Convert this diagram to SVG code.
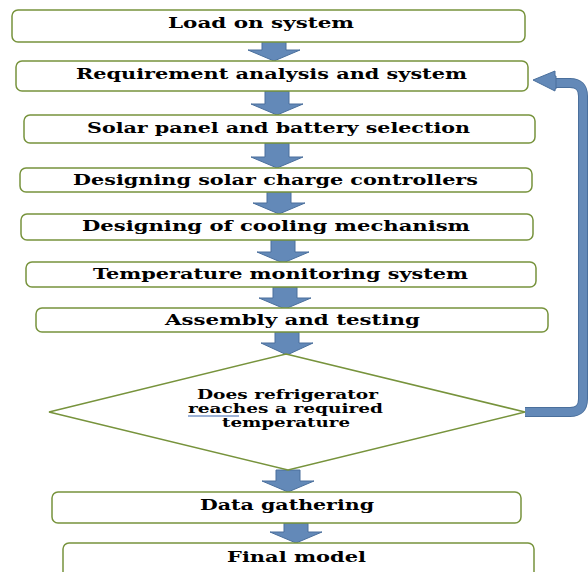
<svg xmlns="http://www.w3.org/2000/svg" width="588" height="572" viewBox="0 0 588 572">
<style>
.box{fill:#fff;stroke:#77933c;stroke-width:1.5}
.t{font-family:"DejaVu Serif","Liberation Serif",serif;font-weight:bold;font-size:14px;fill:#000}
.d{font-size:12px}
.arr{fill:#6389b8;stroke:#4a6f9c;stroke-width:1}
</style>
<rect width="588" height="572" fill="#fff"/>
<g id="connectors">
<polygon class="arr" points="262,41 286,41 286,50 300,50 274,61 248,50 262,50"/>
<polygon class="arr" points="265,91 289,91 289,104 303,104 277,115 251,104 265,104"/>
<polygon class="arr" points="265,143 289,143 289,157 303,157 277,168 251,157 265,157"/>
<polygon class="arr" points="267,192 291,192 291,203 305,203 279,214 253,203 267,203"/>
<polygon class="arr" points="271,240 295,240 295,252 309,252 283,263 257,252 271,252"/>
<polygon class="arr" points="273,287 297,287 297,298 311,298 285,309 259,298 273,298"/>
<polygon class="arr" points="275,332 299,332 299,343 313,343 287,355 261,343 275,343"/>
<polygon class="arr" points="276,470 300,470 300,481 314,481 288,492 262,481 276,481"/>
<polygon class="arr" points="284,523 308,523 308,532 322,532 296,543 270,532 284,532"/>
<path d="M525,412 H570 Q583,412 583,399 V96 Q583,83 570,83 H554" fill="none" stroke="#4a6f9c" stroke-width="10"/>
<path d="M525,412 H570 Q583,412 583,399 V96 Q583,83 570,83 H552" fill="none" stroke="#6389b8" stroke-width="8"/>
<polygon class="arr" points="533,80 555,71 555,76 556,76 556,89 555,89 555,91"/>
</g>
<g id="n1"><rect class="box" x="12" y="10" width="513" height="32" rx="6"/><text class="t" x="168" y="28" textLength="186" lengthAdjust="spacingAndGlyphs">Load on system</text></g>
<g id="n2"><rect class="box" x="16" y="61" width="512" height="30" rx="6"/><text class="t" x="76" y="79" textLength="391" lengthAdjust="spacingAndGlyphs">Requirement analysis and system</text></g>
<g id="n3"><rect class="box" x="24" y="115" width="511" height="28" rx="6"/><text class="t" x="87" y="133" textLength="383" lengthAdjust="spacingAndGlyphs">Solar panel and battery selection</text></g>
<g id="n4"><rect class="box" x="20" y="168" width="512" height="24" rx="6"/><text class="t" x="73" y="185" textLength="405" lengthAdjust="spacingAndGlyphs">Designing solar charge controllers</text></g>
<g id="n5"><rect class="box" x="21" y="214" width="512" height="26" rx="6"/><text class="t" x="82" y="231" textLength="388" lengthAdjust="spacingAndGlyphs">Designing of cooling mechanism</text></g>
<g id="n6"><rect class="box" x="26" y="262" width="510" height="25" rx="6"/><text class="t" x="93" y="279" textLength="375" lengthAdjust="spacingAndGlyphs">Temperature monitoring system</text></g>
<g id="n7"><rect class="box" x="36" y="308" width="512" height="24" rx="6"/><text class="t" x="165" y="325" textLength="255" lengthAdjust="spacingAndGlyphs">Assembly and testing</text></g>
<g id="n8"><polygon points="286,354 525,412 288,470 49,412" fill="#fff" stroke="#77933c" stroke-width="1.5"/>
<text class="t d" x="197" y="399" textLength="181" lengthAdjust="spacingAndGlyphs">Does refrigerator</text>
<text class="t d" x="188" y="413" textLength="195" lengthAdjust="spacingAndGlyphs">reaches a required</text>
<line x1="188" y1="416" x2="239" y2="416" stroke="#3a66b0" stroke-width="1.2"/>
<text class="t d" x="222" y="427" textLength="128" lengthAdjust="spacingAndGlyphs">temperature</text></g>
<g id="n9"><rect class="box" x="52" y="492" width="469" height="31" rx="6"/><text class="t" x="200" y="510" textLength="174" lengthAdjust="spacingAndGlyphs">Data gathering</text></g>
<g id="n10"><rect class="box" x="63" y="543" width="471" height="42" rx="6"/><text class="t" x="227" y="562" textLength="139" lengthAdjust="spacingAndGlyphs">Final model</text></g>
</svg>
